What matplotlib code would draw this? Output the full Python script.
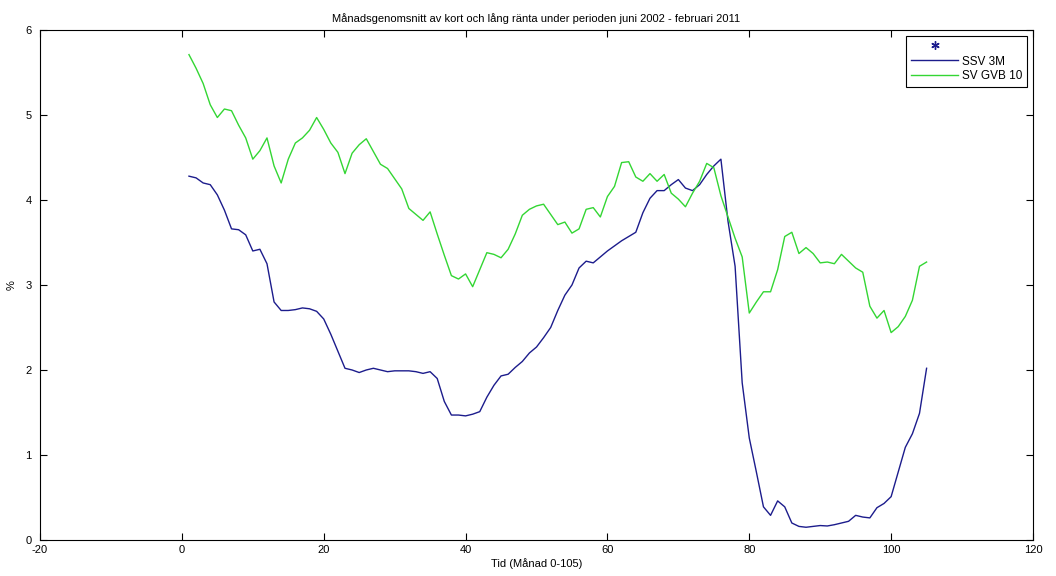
import numpy as np
import matplotlib.pyplot as plt
from matplotlib.lines import Line2D

plt.rcParams['font.family'] = ['Liberation Sans', 'DejaVu Sans']
plt.rcParams['axes.unicode_minus'] = False

months = np.arange(1, 106)

# SSV 3M (kort ränta)
ssv_3m = [4.28, 4.26, 4.20, 4.18, 4.06, 3.88, 3.66, 3.65, 3.59, 3.40,
          3.42, 3.25, 2.80, 2.70, 2.70, 2.71, 2.73, 2.72, 2.69, 2.60,
          2.42, 2.22, 2.02, 2.00, 1.97, 2.00, 2.02, 2.00, 1.98, 1.99,
          1.99, 1.99, 1.98, 1.96, 1.98, 1.90, 1.63, 1.47, 1.47, 1.46,
          1.48, 1.51, 1.68, 1.82, 1.93, 1.95, 2.03, 2.10, 2.20, 2.27,
          2.38, 2.50, 2.70, 2.88, 3.00, 3.20, 3.28, 3.26, 3.33, 3.40,
          3.46, 3.52, 3.57, 3.62, 3.85, 4.02, 4.11, 4.11, 4.18, 4.24,
          4.14, 4.11, 4.18, 4.30, 4.40, 4.48, 3.75, 3.22, 1.85, 1.20,
          0.80, 0.39, 0.29, 0.46, 0.39, 0.20, 0.16, 0.15, 0.16, 0.17,
          0.165, 0.18, 0.20, 0.22, 0.29, 0.27, 0.26, 0.38, 0.43, 0.51,
          0.80, 1.09, 1.25, 1.49, 2.02]

# SV GVB 10 (lång ränta)
sv_gvb_10 = [5.71, 5.55, 5.37, 5.12, 4.97, 5.07, 5.05, 4.88, 4.73, 4.48,
             4.58, 4.73, 4.40, 4.20, 4.48, 4.67, 4.73, 4.82, 4.97, 4.83,
             4.67, 4.56, 4.31, 4.55, 4.65, 4.72, 4.57, 4.42, 4.37, 4.25,
             4.13, 3.90, 3.83, 3.76, 3.86, 3.60, 3.35, 3.11, 3.07, 3.13,
             2.98, 3.18, 3.38, 3.36, 3.32, 3.42, 3.60, 3.82, 3.89, 3.93,
             3.95, 3.83, 3.71, 3.74, 3.61, 3.66, 3.89, 3.91, 3.80, 4.04,
             4.16, 4.44, 4.45, 4.27, 4.22, 4.31, 4.22, 4.30, 4.08, 4.01,
             3.92, 4.08, 4.22, 4.43, 4.38, 4.05, 3.80, 3.55, 3.33, 2.67,
             2.80, 2.92, 2.92, 3.18, 3.57, 3.62, 3.37, 3.44, 3.37, 3.26,
             3.27, 3.25, 3.36, 3.28, 3.20, 3.15, 2.75, 2.61, 2.70, 2.44,
             2.51, 2.63, 2.82, 3.22, 3.27]

blue = '#1c1c8c'
green = '#33d633'

fig = plt.figure(figsize=(10.56, 5.76), dpi=100)
ax = fig.add_axes([0.0379, 0.0625, 0.9403, 0.8855])

ax.plot(months, ssv_3m, color=blue, linewidth=1)
ax.plot(months, sv_gvb_10, color=green, linewidth=1)

ax.set_xlim(-20, 120)
ax.set_ylim(0, 6)
ax.set_xticks(np.arange(-20, 121, 20))
ax.set_yticks(np.arange(0, 7, 1))
ax.tick_params(direction='in', length=5, labelsize=8, top=True, right=True)
ax.tick_params(axis='y', pad=6)

ax.set_title('Månadsgenomsnitt av kort och lång ränta under perioden juni 2002 - februari 2011',
             fontsize=8, pad=6)
ax.set_xlabel('Tid (Månad 0-105)', fontsize=8, labelpad=2)
ax.set_ylabel('%', fontsize=8, labelpad=6)

# MATLAB-liknande legend med en tom asterisk-rad överst
handles = [Line2D([], [], color=blue, marker=(6, 2, 0), linestyle='none',
                  markersize=6, markeredgewidth=1),
           Line2D([], [], color=blue, linewidth=1),
           Line2D([], [], color=green, linewidth=1)]
labels = ['', 'SSV 3M', 'SV GVB 10']
leg = ax.legend(handles, labels, loc='upper right', fontsize=8.5, fancybox=False,
                edgecolor='black', framealpha=1, handlelength=4.0,
                borderaxespad=0.5, labelspacing=0.25, handletextpad=0.3,
                borderpad=0.4)
leg.get_frame().set_linewidth(0.8)

fig.savefig('out.png', dpi=100)
